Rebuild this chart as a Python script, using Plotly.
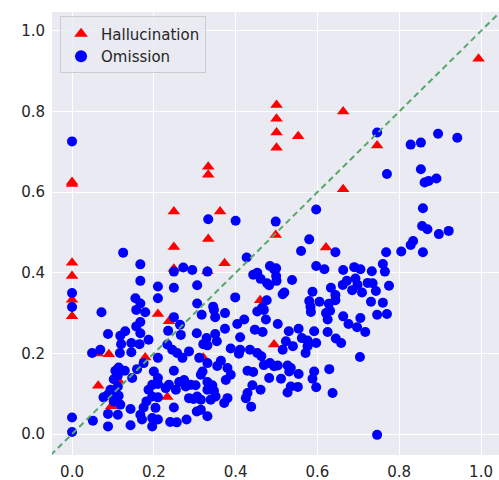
import plotly.graph_objects as go

# Hallucination points (red triangles)
hall_x = [0, 0, 0, 0, 0, 0,
          0.249, 0.249, 0.249, 0.333, 0.333, 0.362, 0.333, 0.373, 0.331,
          0.5, 0.5, 0.5, 0.5, 0.553, 0.663, 0.663, 0.746, 0.994,
          0.498, 0.621, 0.46, 0.494,
          0.21, 0.237, 0.063, 0.09, 0.179, 0.321, 0.064, 0.114, 0.096, 0.233]
hall_y = [0.625, 0.62, 0.425, 0.392, 0.333, 0.292,
          0.552, 0.464, 0.41, 0.663, 0.643, 0.552, 0.484, 0.424, 0.404,
          0.816, 0.782, 0.748, 0.71, 0.739, 0.8, 0.607, 0.716, 0.931,
          0.494, 0.463, 0.332, 0.222,
          0.298, 0.28, 0.2, 0.198, 0.19, 0.189, 0.12, 0.132, 0.069, 0.092]

# Omission points (blue circles)
om_pts = [
    (0, 0.726), (0, 0.35), (0, 0.315), (0, 0.041), (0, 0.005),
    (0.125, 0.45), (0.167, 0.421), (0.167, 0.38), (0.21, 0.366), (0.155, 0.337), (0.167, 0.324), (0.21, 0.337),
    (0.746, 0.748), (0.828, 0.718), (0.853, 0.723), (0.895, 0.745), (0.942, 0.735),
    (0.333, 0.533), (0.4, 0.529), (0.498, 0.527), (0.427, 0.438), (0.249, 0.403), (0.272, 0.413), (0.294, 0.407),
    (0.331, 0.403), (0.249, 0.363), (0.306, 0.369), (0.443, 0.395), (0.453, 0.4), (0.461, 0.385), (0.484, 0.417),
    (0.494, 0.409), (0.477, 0.374), (0.482, 0.369), (0.399, 0.339), (0.306, 0.324), (0.345, 0.316), (0.476, 0.332),
    (0.465, 0.314),
    (0.77, 0.645), (0.597, 0.557), (0.58, 0.483), (0.56, 0.454), (0.644, 0.451), (0.768, 0.451), (0.76, 0.422),
    (0.765, 0.403), (0.499, 0.411), (0.597, 0.417), (0.617, 0.409), (0.663, 0.407), (0.69, 0.414), (0.705, 0.409),
    (0.733, 0.404), (0.5, 0.38), (0.538, 0.382), (0.519, 0.351), (0.515, 0.347), (0.588, 0.353), (0.633, 0.363),
    (0.662, 0.37), (0.672, 0.38), (0.693, 0.386), (0.698, 0.37), (0.685, 0.357), (0.709, 0.351), (0.723, 0.375),
    (0.735, 0.374), (0.743, 0.355), (0.775, 0.368), (0.644, 0.345), (0.58, 0.33), (0.605, 0.328), (0.628, 0.323),
    (0.644, 0.332), (0.583, 0.316), (0.731, 0.328), (0.76, 0.326), (0.499, 0.392),
    (0.853, 0.657), (0.862, 0.624), (0.872, 0.628), (0.891, 0.634), (0.858, 0.56), (0.856, 0.516), (0.869, 0.508),
    (0.897, 0.496), (0.921, 0.504), (0.834, 0.479), (0.828, 0.469), (0.805, 0.453), (0.858, 0.451),
    (0.072, 0.302), (0.157, 0.308), (0.179, 0.302), (0.088, 0.248), (0.118, 0.244), (0.13, 0.255), (0.157, 0.267),
    (0.167, 0.278), (0.167, 0.25), (0.187, 0.234), (0.12, 0.223), (0.145, 0.226), (0.165, 0.223), (0.049, 0.201),
    (0.069, 0.209), (0.117, 0.201), (0.145, 0.203), (0.21, 0.189), (0.175, 0.176), (0.159, 0.161), (0.114, 0.165),
    (0.106, 0.157), (0.129, 0.157), (0.112, 0.145), (0.102, 0.136), (0.147, 0.139), (0.094, 0.11), (0.112, 0.118),
    (0.077, 0.091), (0.088, 0.098), (0.106, 0.099), (0.114, 0.095), (0.102, 0.081), (0.118, 0.073), (0.088, 0.05),
    (0.112, 0.048), (0.143, 0.062), (0.051, 0.033), (0.088, 0.019), (0.143, 0.022), (0.21, 0.124), (0.196, 0.122),
    (0.187, 0.11), (0.196, 0.093), (0.182, 0.081), (0.175, 0.066), (0.204, 0.065), (0.167, 0.048), (0.196, 0.04),
    (0.21, 0.036), (0.171, 0.036), (0.196, 0.019), (0.21, 0.139), (0.2, 0.155), (0.21, 0.091),
    (0.249, 0.29), (0.264, 0.271), (0.235, 0.256), (0.266, 0.246), (0.233, 0.222), (0.245, 0.209), (0.257, 0.201),
    (0.27, 0.189), (0.286, 0.205), (0.305, 0.25), (0.317, 0.296), (0.347, 0.308), (0.374, 0.3), (0.35, 0.29),
    (0.374, 0.261), (0.35, 0.248), (0.329, 0.238), (0.321, 0.223), (0.331, 0.22), (0.354, 0.23), (0.388, 0.212),
    (0.411, 0.209), (0.411, 0.24), (0.404, 0.273), (0.421, 0.284), (0.447, 0.259), (0.466, 0.253), (0.453, 0.304),
    (0.469, 0.308), (0.474, 0.284), (0.435, 0.209), (0.453, 0.201), (0.463, 0.193), (0.408, 0.199), (0.469, 0.171),
    (0.484, 0.176), (0.494, 0.168), (0.482, 0.139), (0.429, 0.157), (0.443, 0.154), (0.441, 0.121), (0.461, 0.11),
    (0.429, 0.102), (0.425, 0.089), (0.438, 0.068), (0.249, 0.157), (0.311, 0.189), (0.331, 0.176), (0.319, 0.155),
    (0.315, 0.147), (0.355, 0.169), (0.364, 0.182), (0.38, 0.164), (0.388, 0.147), (0.376, 0.134), (0.237, 0.122),
    (0.262, 0.129), (0.274, 0.134), (0.278, 0.118), (0.29, 0.122), (0.302, 0.121), (0.229, 0.114), (0.254, 0.11),
    (0.331, 0.129), (0.343, 0.121), (0.347, 0.107), (0.331, 0.11), (0.351, 0.093), (0.339, 0.085), (0.38, 0.089),
    (0.372, 0.077), (0.286, 0.089), (0.297, 0.087), (0.306, 0.093), (0.315, 0.085), (0.249, 0.066), (0.305, 0.056),
    (0.315, 0.06), (0.331, 0.044), (0.28, 0.036), (0.24, 0.03), (0.256, 0.029),
    (0.584, 0.303), (0.621, 0.3), (0.631, 0.306), (0.625, 0.284), (0.663, 0.292), (0.676, 0.273), (0.697, 0.265),
    (0.705, 0.288), (0.717, 0.253), (0.746, 0.296), (0.77, 0.298), (0.503, 0.273), (0.53, 0.255), (0.554, 0.261),
    (0.592, 0.255), (0.625, 0.253), (0.562, 0.238), (0.576, 0.232), (0.597, 0.226), (0.645, 0.237), (0.658, 0.226),
    (0.523, 0.23), (0.54, 0.218), (0.515, 0.209), (0.576, 0.218), (0.571, 0.201), (0.704, 0.191), (0.503, 0.17),
    (0.527, 0.17), (0.535, 0.164), (0.531, 0.155), (0.554, 0.149), (0.511, 0.137), (0.592, 0.155), (0.629, 0.161),
    (0.588, 0.137), (0.535, 0.118), (0.552, 0.117), (0.527, 0.103), (0.597, 0.116), (0.637, 0.102), (0.746, -0.002),
]
om_x = [p[0] for p in om_pts]
om_y = [p[1] for p in om_pts]

tick_vals = [0.0, 0.2, 0.4, 0.6, 0.8, 1.0]
tick_text = ["0.0", "0.2", "0.4", "0.6", "0.8", "1.0"]
x_range = [-0.049, 1.044]
y_range = [-0.052, 1.047]

fig = go.Figure()
fig.add_trace(go.Scatter(x=hall_x, y=hall_y, mode="markers", name="Hallucination",
                         marker=dict(symbol="triangle-up", size=11, color="#ff0000")))
fig.add_trace(go.Scatter(x=om_x, y=om_y, mode="markers", name="Omission",
                         marker=dict(symbol="circle", size=10, color="#0000ff")))
diag = [min(x_range[0], y_range[0]), max(x_range[1], y_range[1])]
fig.add_trace(go.Scatter(x=diag, y=diag, mode="lines", showlegend=False, hoverinfo="skip",
                         line=dict(color="#55a868", width=2, dash="6px,4px")))

axis_common = dict(showgrid=True, gridcolor="white", gridwidth=1, zeroline=False, showline=False,
                   tickvals=tick_vals, ticktext=tick_text, ticks="outside", ticklen=3,
                   automargin=False,
                   tickcolor="rgba(0,0,0,0)", tickfont=dict(size=15, color="#262626",
                                                          family="DejaVu Sans"))
fig.update_xaxes(range=x_range, **axis_common)
fig.update_yaxes(range=y_range, **axis_common)

fig.update_layout(
    width=499, height=480,
    margin=dict(l=52, r=0, t=12, b=25),
    paper_bgcolor="white", plot_bgcolor="#eaeaf2",
    font=dict(family="DejaVu Sans", color="#262626"),
    legend=dict(x=0.018, y=0.99, xanchor="left", yanchor="top",
                bgcolor="rgba(234,234,242,0.8)", bordercolor="#cccccc", borderwidth=1,
                font=dict(size=15, color="#262626"), itemsizing="constant",
                tracegroupgap=0),
)
fig.write_html("out.html", config={"displayModeBar": False},
               post_script="document.body.style.margin='0';document.body.style.padding='0';")
